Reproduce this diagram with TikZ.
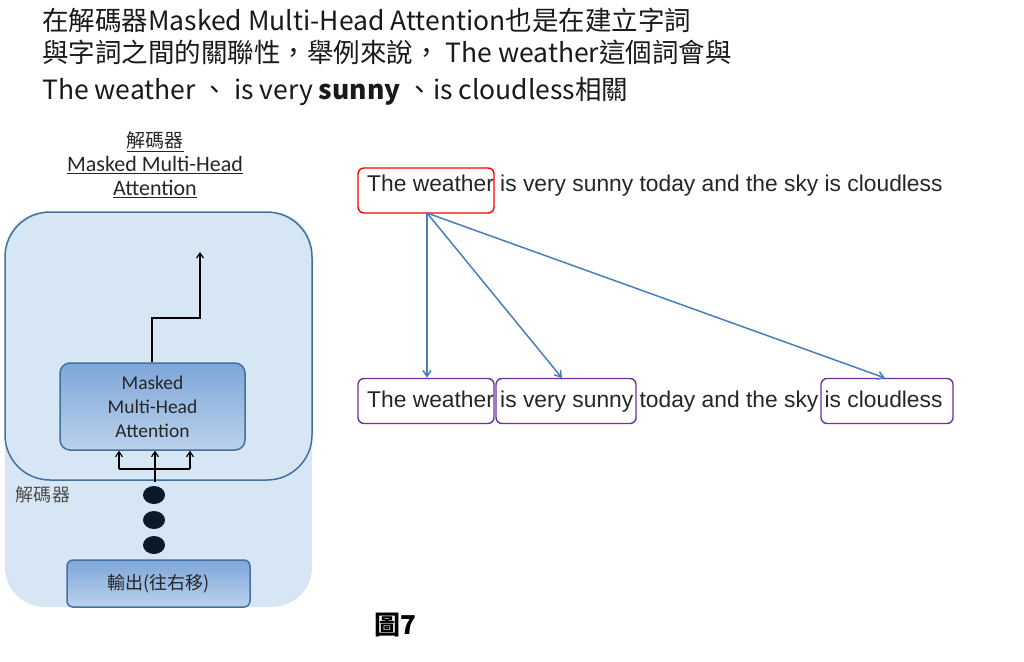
\documentclass[tikz,border=0pt]{standalone}
\usepackage{fontspec}
\setmainfont{Liberation Sans}
\newfontfamily\cjk{Noto Sans CJK TC}
\newfontfamily\calfnt{Carlito}
\usetikzlibrary{arrows.meta,shapes.geometric}
\definecolor{lightbg}{HTML}{D6E6F4}
\definecolor{bord}{HTML}{41719C}
\definecolor{topb}{HTML}{7EA6D9}
\definecolor{botb}{HTML}{BBD2EC}
\definecolor{arr}{HTML}{4A7EBB}
\definecolor{purp}{HTML}{7030A0}
\definecolor{dotc}{HTML}{0B1A2A}
\tikzset{
 gbox/.style={draw=bord,line width=1.5pt,rounded corners=10pt,top color=topb,bottom color=botb,align=center,font=\calfnt\fontsize{19.5}{24}\selectfont,text=black!85},
 wbox/.style={draw=purp,line width=1.4pt,rounded corners=6pt},
 rbox/.style={draw=red,line width=1.4pt,rounded corners=6pt},
 con/.style={draw=arr,line width=1.5pt,-{Straight Barb[length=6pt,width=8pt]}},
 blk/.style={line width=1.2pt,-{Straight Barb[length=5pt,width=7pt]}},
 dot/.style={fill=dotc,ellipse,minimum width=22pt,minimum height=18pt,inner sep=0pt},
 sent/.style={anchor=base west,inner sep=0pt,font=\fontsize{22.8}{26}\selectfont,text=black!85},
 ttl/.style={anchor=base west,inner sep=0pt,font=\cjk\fontsize{26.5}{30}\selectfont,text=black!90}
}
\begin{document}
\begin{tikzpicture}[x=1pt,y=-1pt]
\useasboundingbox (0,0) rectangle (1024,661);
% title
\node[ttl] (t1) at (42,31) {在解碼器Masked Multi-Head Attention也是在建立字詞};
\node[ttl] (t2) at (42,63) {與字詞之間的關聯性，舉例來說，\ The weather這個詞會與};
\node[ttl] (t3) at (42,99) {The weather 、 is very \textbf{sunny} 、is cloudless相關};
% left panel
\fill[lightbg,rounded corners=40pt] (5,212) rectangle (312,607);
\draw[bord,line width=1.5pt,fill=lightbg,rounded corners=45pt] (5,212) rectangle (312,480);
\node[align=center,font=\calfnt\fontsize{22}{24}\selectfont,text=black!85] (hd) at (155,165)
 {\underline{\cjk\fontsize{19}{24}\selectfont 解碼器}\\\underline{Masked Multi-Head}\\\underline{Attention}};
\node[gbox,minimum width=185pt,minimum height=87pt] (mm) at (152.5,406.5) {Masked\\Multi-Head\\Attention};
\coordinate (o1) at (152,318);
\coordinate (o2) at (200,318);
\coordinate (o3) at (200,252);
\draw[blk] (mm.north -| o1) -- (o1) -- (o2) -- (o3);
\coordinate (src) at (155,482);
\coordinate (b1) at (119,469);
\coordinate (b2) at (155,469);
\coordinate (b3) at (190,469);
\draw[line width=1.2pt] (src) -- (b2);
\draw[line width=1.2pt] (b1) -- (b3);
\draw[blk] (b1) -- (b1 |- mm.south);
\draw[blk] (b2) -- (b2 |- mm.south);
\draw[blk] (b3) -- (b3 |- mm.south);
\node[font=\cjk\fontsize{18}{20}\selectfont,text=black!70] (dl) at (43,495) {解碼器};
\node[dot] (d1) at (154,495) {};
\node[dot] (d2) at (154,520) {};
\node[dot] (d3) at (154,545) {};
\node[gbox,minimum width=183pt,minimum height=47pt,rounded corners=6pt,font=\cjk\fontsize{18}{20}\selectfont] (out) at (158.5,583.5) {輸出(往右移)};
% right sentences
\node[sent] (s1) at (367,191) {The weather is very sunny today and the sky is cloudless};
\node[sent] (s2) at (367,407) {The weather is very sunny today and the sky is cloudless};
\node[rbox,minimum width=136pt,minimum height=45pt] (tw) at (426,190.5) {};
\node[wbox,minimum width=136pt,minimum height=45pt] (w1) at (426,401) {};
\node[wbox,minimum width=140pt,minimum height=45pt] (w2) at (566,401) {};
\node[wbox,minimum width=132pt,minimum height=45pt] (w3) at (887,401) {};
\coordinate (st) at (427,213);
\draw[con] (st) -- (w1.north -| st);
\draw[con] (st) -- (562,378);
\draw[con] (st) -- (885,378);
\node[font=\cjk\bfseries\fontsize{26}{30}\selectfont] (fig) at (395,625) {圖7};
\end{tikzpicture}
\end{document}
